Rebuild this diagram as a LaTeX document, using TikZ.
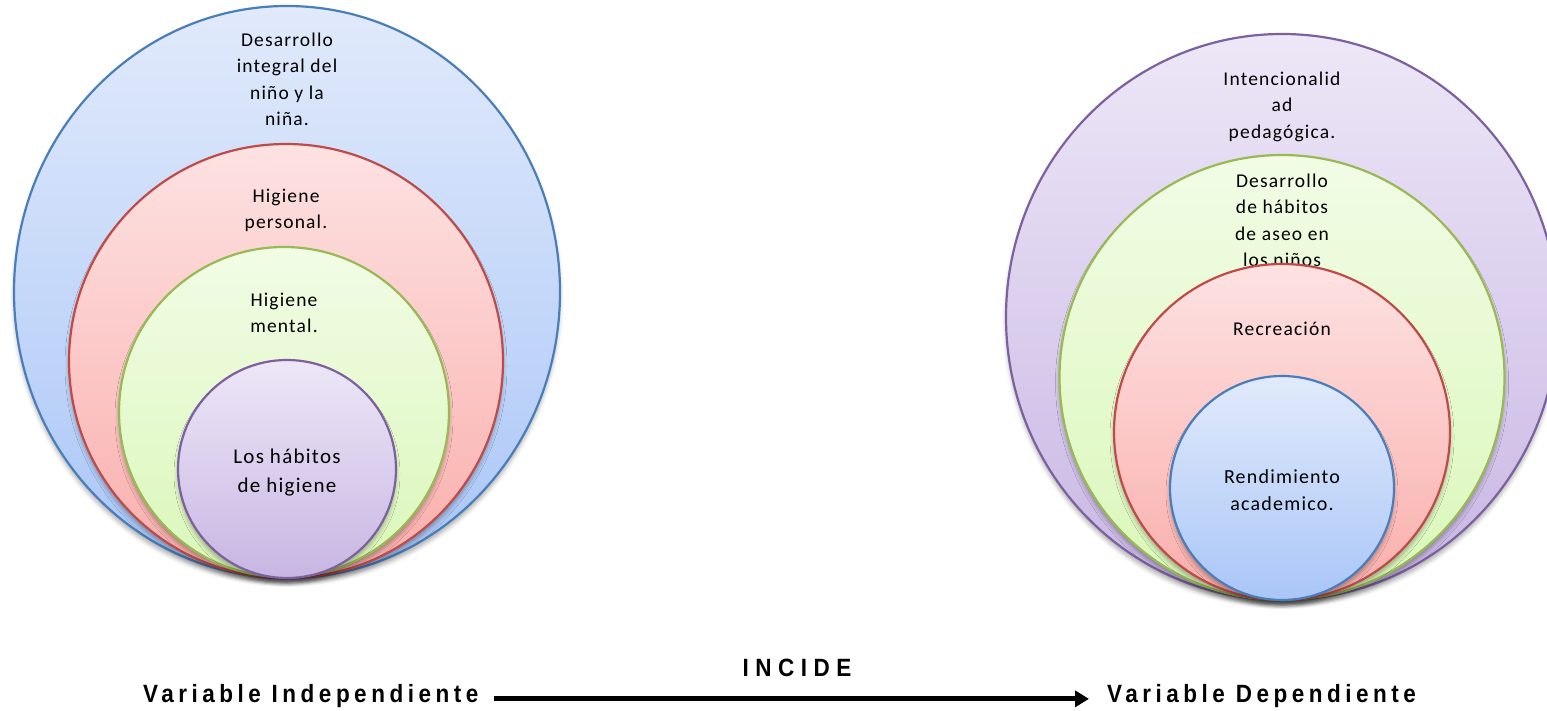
\documentclass[tikz,border=0pt]{standalone}
\usepackage{fontspec}
\newfontfamily\calfont{Carlito}[LetterSpace=6]
\newfontfamily\varfont{Liberation Sans}[FakeStretch=0.9,LetterSpace=18]
\newfontfamily\incfont{Liberation Sans}[FakeStretch=0.9,LetterSpace=26]
\usetikzlibrary{shapes.geometric,shadows.blur,arrows.meta}
\definecolor{bluetop}{HTML}{E1EAFB}\definecolor{bluebot}{HTML}{A9C6F7}\definecolor{blueline}{HTML}{4A7EBB}
\definecolor{redtop}{HTML}{FDE2E2}\definecolor{redbot}{HTML}{F9AEAB}\definecolor{redline}{HTML}{BE4B48}
\definecolor{greentop}{HTML}{F2FCE6}\definecolor{greenbot}{HTML}{DAF7B9}\definecolor{greenline}{HTML}{98B954}
\definecolor{purptop}{HTML}{EDE7F7}\definecolor{purpbot}{HTML}{C8B6E3}\definecolor{purpline}{HTML}{7D60A0}
\newcommand\fst{\rule{0pt}{18pt}}
\tikzset{
  vc/.style={ellipse, draw, line width=2.2pt, inner sep=0pt, outer sep=0pt,
    blur shadow={shadow xshift=0pt, shadow yshift=-5pt, shadow blur radius=4pt, shadow opacity=30}},
  bluec/.style={vc, draw=blueline, top color=bluetop, bottom color=bluebot},
  redc/.style={vc, draw=redline, top color=redtop, bottom color=redbot},
  greenc/.style={vc, draw=greenline, top color=greentop, bottom color=greenbot},
  purpc/.style={vc, draw=purpline, top color=purptop, bottom color=purpbot},
  lbl/.style={anchor=north, align=center, inner sep=0pt, font=\calfont\fontsize{19.5}{26.5}\selectfont},
  varlbl/.style={inner sep=0pt, font=\varfont\bfseries\fontsize{25}{29}\selectfont},
  arr/.style={line width=5pt, -{Triangle[length=14pt,width=16pt]}}
}
\begin{document}
\begin{tikzpicture}[x=1pt,y=-1pt]
\useasboundingbox (0,0) rectangle (1547,711);
\clip (0,0) rectangle (1547,711);
% left group
\node[bluec, minimum width=546pt, minimum height=572pt] (lb) at (287,292) {};
\node[lbl] (lbt) at (287,28) {\fst Desarrollo\\integral del\\niño  y la\\niña.};
\node[redc, minimum width=434pt, minimum height=434pt] (lr) at (286,361) {};
\node[lbl] (lrt) at (286,184) {\fst Higiene\\personal.};
\node[greenc, minimum width=330pt, minimum height=330pt] (lg) at (284,412) {};
\node[lbl] (lgt) at (284,288) {\fst Higiene\\mental.};
\node[purpc, minimum width=218pt, minimum height=218pt] (lp) at (287,469) {};
\node[lbl, font=\calfont\fontsize{21}{29}\selectfont] (lpt) at (287,445) {\fst Los hábitos\\de higiene};
% right group
\node[purpc, minimum width=552pt, minimum height=566pt] (rp) at (1282,317) {};
\node[lbl] (rpt) at (1282,67) {\fst Intencionalid\\ad\\pedagógica.};
\node[greenc, minimum width=445pt, minimum height=445pt] (rg) at (1282,377.5) {};
\node[lbl] (rgt) at (1282,169) {\fst Desarrollo\\de hábitos\\de aseo  en\\los niños};
\node[redc, minimum width=336pt, minimum height=336pt] (rr) at (1282,432) {};
\node[lbl] (rrt) at (1282,317) {\fst Recreación};
\node[bluec, minimum width=224pt, minimum height=224pt] (rb) at (1282,488) {};
\node[lbl, font=\calfont\fontsize{20}{27}\selectfont] (rbt) at (1282,465) {\fst Rendimiento\\academico.};
% bottom row
\node[varlbl, anchor=base west] (vi) at (143,702) {Variable Independiente};
\node[varlbl, anchor=base west] (vd) at (1107,702) {Variable Dependiente};
\draw[arr] ([xshift=16pt,yshift=1pt]vi.mid east) -- ([xshift=-18pt,yshift=1pt]vd.mid west);
\node[inner sep=0pt, anchor=base, font=\incfont\bfseries\fontsize{25}{29}\selectfont] (inc) at (797,676) {INCIDE};
\end{tikzpicture}
\end{document}
